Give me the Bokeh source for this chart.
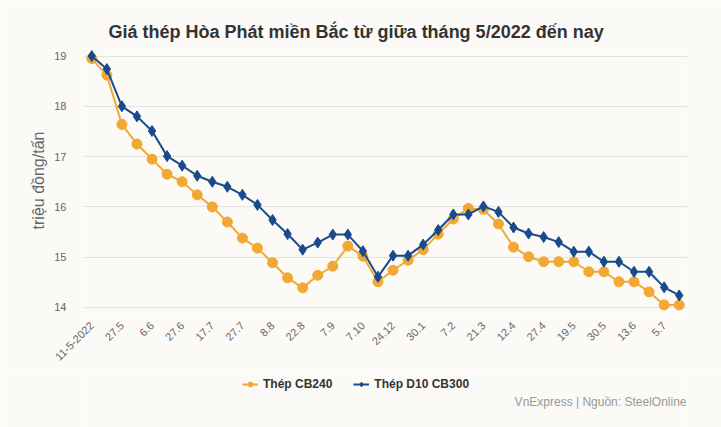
from bokeh.plotting import figure
from bokeh.layouts import column
from bokeh.models import Range1d, FixedTicker, Legend, LegendItem, ColumnDataSource, Label
from bokeh.embed import file_html
from bokeh.resources import INLINE
import math

# ---- data ----
tick_labels = ["11-5-2022", "27.5", "6.6", "27.6", "17.7", "27.7", "8.8", "22.8", "7.9", "7.10",
               "24.12", "30.1", "7.2", "21.3", "12.4", "27.4", "19.5", "30.5", "13.6", "5.7"]
cb240 = [18.95, 18.62, 17.64, 17.25, 16.95, 16.65, 16.50, 16.24, 16.00, 15.70,
         15.38, 15.18, 14.89, 14.59, 14.39, 14.64, 14.82, 15.22, 15.02, 14.51,
         14.74, 14.94, 15.15, 15.46, 15.76, 15.97, 15.95, 15.66, 15.20, 15.01,
         14.91, 14.91, 14.91, 14.71, 14.71, 14.51, 14.51, 14.31, 14.05, 14.05]
d10cb300 = [19.00, 18.74, 18.00, 17.80, 17.51, 17.01, 16.82, 16.62, 16.50, 16.40,
            16.24, 16.04, 15.74, 15.46, 15.15, 15.29, 15.45, 15.45, 15.12, 14.61,
            15.03, 15.03, 15.25, 15.54, 15.85, 15.85, 16.01, 15.90, 15.59, 15.47,
            15.40, 15.30, 15.11, 15.11, 14.91, 14.91, 14.71, 14.71, 14.40, 14.24]
series_names = ["Thép CB240", "Thép D10 CB300"]
title_text = "Giá thép Hòa Phát miền Bắc từ giữa tháng 5/2022 đến nay"
y_label = "triệu đồng/tấn"
credit_text = "VnExpress | Nguồn: SteelOnline"

xs = list(range(len(cb240)))
orange = "#f1a933"
blue = "#184a8c"
bg = "#fbfaf7"
FONT = "Liberation Sans"

src = ColumnDataSource(dict(x=xs, a=cb240, b=d10cb300))

# ---- main chart ----
p = figure(width=721, height=370, output_backend="svg", toolbar_location=None,
           x_range=Range1d(-0.55, 39.55), y_range=Range1d(13.9, 19.15),
           min_border_left=83, min_border_right=34, min_border_top=48, min_border_bottom=58,
           background_fill_color=bg, border_fill_color=bg, outline_line_color=None)

l1 = p.line("x", "a", source=src, line_color=orange, line_width=2)
m1 = p.scatter("x", "a", source=src, marker="circle", size=10, fill_color=orange, line_color=orange)
l2 = p.line("x", "b", source=src, line_color=blue, line_width=2)
m2 = p.scatter("x", "b", source=src, marker="diamond", size=11, fill_color=blue, line_color=blue)

p.xgrid.grid_line_color = None
p.ygrid.grid_line_color = "#e3e3e3"
p.yaxis.ticker = FixedTicker(ticks=[14, 15, 16, 17, 18, 19])
p.yaxis.axis_line_color = None
p.yaxis.major_tick_line_color = None
p.yaxis.minor_tick_line_color = None
p.yaxis.major_label_standoff = 11
p.yaxis.major_label_text_font = FONT
p.yaxis.major_label_text_font_size = "11px"
p.yaxis.major_label_text_color = "#666666"
p.yaxis.axis_label = y_label
p.yaxis.axis_label_text_font = FONT
p.yaxis.axis_label_text_font_size = "16px"
p.yaxis.axis_label_text_font_style = "normal"
p.yaxis.axis_label_text_color = "#666666"
p.yaxis.axis_label_standoff = 4

p.xaxis.ticker = FixedTicker(ticks=list(range(0, 40, 2)))
p.xaxis.major_label_overrides = {i * 2: t for i, t in enumerate(tick_labels)}
p.xaxis.major_label_orientation = math.pi / 4
p.xaxis.axis_line_color = None
p.xaxis.major_tick_line_color = None
p.xaxis.minor_tick_line_color = None
p.xaxis.major_label_standoff = 5
p.xaxis.major_label_text_font = FONT
p.xaxis.major_label_text_font_size = "11px"
p.xaxis.major_label_text_color = "#666666"

p.title.text = title_text
p.title.align = "left"
p.title.offset = 25
p.title.standoff = 13
p.title.text_font = FONT
p.title.text_font_size = "18px"
p.title.text_font_style = "bold"
p.title.text_color = "#333333"

# ---- legend / source strip ----
p2 = figure(width=721, height=57, output_backend="svg", toolbar_location=None,
            x_range=Range1d(83, 687), y_range=Range1d(100, 157),
            x_axis_type=None, y_axis_type=None, min_border=0,
            background_fill_color=bg, border_fill_color=bg, outline_line_color=None)
p2.grid.visible = False
k1 = p2.line("x", "a", source=src, line_color=orange, line_width=2)
k1m = p2.scatter("x", "a", source=src, marker="circle", size=10, fill_color=orange, line_color=orange)
k2 = p2.line("x", "b", source=src, line_color=blue, line_width=2)
k2m = p2.scatter("x", "b", source=src, marker="diamond", size=11, fill_color=blue, line_color=blue)

legend = Legend(items=[LegendItem(label=series_names[0], renderers=[k1, k1m]),
                       LegendItem(label=series_names[1], renderers=[k2, k2m])],
                orientation="horizontal", location=(159, 36),
                background_fill_alpha=0, border_line_color=None,
                padding=0, margin=0, spacing=21, glyph_width=16, glyph_height=12,
                label_standoff=5, label_text_font=FONT, label_text_font_size="12px",
                label_text_font_style="bold", label_text_color="#333333")
p2.add_layout(legend, "center")

p2.add_layout(Label(x=686, y=126, text=credit_text, text_align="right", text_baseline="middle",
                    text_font=FONT, text_font_size="12px", text_color="#999999"))

layout = column(p, p2, spacing=0)
open("out.html", "w").write(file_html(layout, INLINE))
